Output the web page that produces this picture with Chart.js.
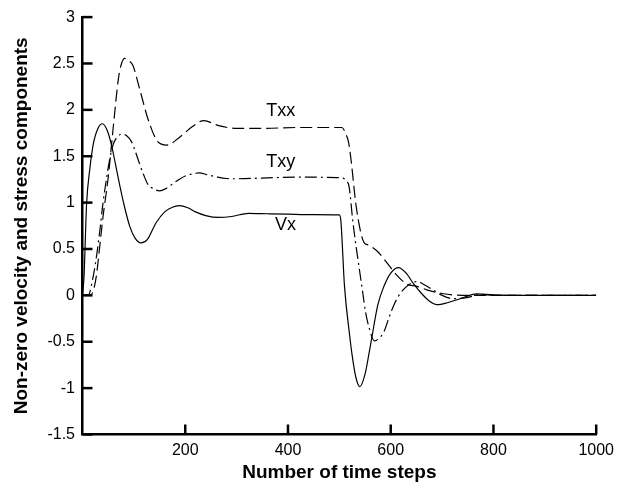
<!DOCTYPE html>
<html>
<head>
<meta charset="utf-8">
<script src="https://cdn.jsdelivr.net/npm/chart.js@4"></script>
<style>
  body { margin: 0; background: #fff; }
</style>
</head>
<body>
<canvas id="myChart" width="620" height="494"></canvas>
<script>
// Vx (solid)
const vxSteps = [0, 3, 8, 14, 21, 30, 39, 48, 56, 64, 72, 82, 92, 102, 114, 126, 143, 160, 175, 188, 205, 220, 240, 265, 290, 323, 360, 400, 450, 500, 503, 510, 520, 525, 532, 540, 550, 557, 564, 575, 587, 600, 615, 630, 645, 660, 675, 690, 710, 735, 767, 800, 850, 1000];
const vxValues = [0, 0.21, 0.99, 1.35, 1.63, 1.8, 1.85, 1.78, 1.63, 1.42, 1.2, 0.95, 0.744, 0.62, 0.566, 0.6, 0.78, 0.9, 0.95, 0.967, 0.945, 0.9, 0.86, 0.84, 0.85, 0.885, 0.88, 0.875, 0.87, 0.867, 0.8, 0.1, -0.43, -0.65, -0.88, -0.985, -0.85, -0.65, -0.43, -0.1, 0.1, 0.24, 0.3, 0.24, 0.12, 0.02, -0.06, -0.1, -0.08, -0.036, 0.017, 0.006, 0, 0];

// Txx (dashed)
const txxSteps = [0, 15, 21, 27, 33, 40, 50, 60, 70, 76, 82, 90, 98, 111, 127, 146, 164, 188, 214, 236, 265, 300, 350, 420, 505, 513, 518, 523, 532, 542, 548, 555, 561, 575, 590, 613, 632, 650, 670, 700, 740, 800, 1000];
const txxValues = [0, 0, 0.05, 0.21, 0.5, 0.85, 1.27, 1.82, 2.34, 2.5, 2.556, 2.53, 2.48, 2.23, 1.91, 1.66, 1.62, 1.7, 1.82, 1.884, 1.83, 1.8, 1.8, 1.81, 1.81, 1.735, 1.65, 1.45, 0.99, 0.67, 0.57, 0.545, 0.53, 0.47, 0.37, 0.21, 0.12, 0.1, 0.06, 0.02, 0, 0, 0];

// Txy (dash-dot)
const txySteps = [0, 11, 21, 28, 34, 40, 47, 53, 60, 68, 77, 86, 95, 103, 111, 119, 127, 138, 150, 162, 175, 188, 201, 214, 227, 243, 259, 280, 300, 350, 420, 495, 506, 513, 519, 526, 532, 539, 545, 551, 558, 568, 578, 587, 596, 606, 616, 626, 638, 651, 667, 684, 700, 722, 748, 775, 800, 1000];
const txyValues = [0, 0, 0.21, 0.45, 0.71, 1.0, 1.27, 1.47, 1.63, 1.71, 1.74, 1.72, 1.66, 1.55, 1.42, 1.3, 1.2, 1.15, 1.126, 1.15, 1.2, 1.25, 1.29, 1.31, 1.32, 1.3, 1.28, 1.26, 1.257, 1.265, 1.275, 1.27, 1.265, 1.24, 1.17, 0.81, 0.55, 0.28, 0.05, -0.18, -0.35, -0.49, -0.46, -0.39, -0.25, -0.106, 0, 0.07, 0.125, 0.149, 0.11, 0.053, 0, -0.036, -0.025, 0.01, 0, 0];

const xTicks = [200, 400, 600, 800, 1000];
const yTicks = [-1.5, -1, -0.5, 0, 0.5, 1, 1.5, 2, 2.5, 3];

const FONT = 'Liberation Sans, Arial, sans-serif';

function toPoints(xs, ys) {
    return xs.map((x, i) => ({ x: x, y: ys[i] }));
}

// curve names written inside the plot
const curveLabels = [
    { text: 'Txx', x: 386, y: 1.985 },
    { text: 'Txy', x: 386, y: 1.435 },
    { text: 'Vx', x: 395, y: 0.76 }
];

const insideTicks = {
    id: 'insideTicks',
    afterDraw(chart) {
        const ctx = chart.ctx;
        const xs = chart.scales.x;
        const ys = chart.scales.y;
        const area = chart.chartArea;
        ctx.save();
        ctx.strokeStyle = '#000';
        ctx.lineWidth = 2.5;
        xTicks.forEach(v => {
            const px = xs.getPixelForValue(v);
            ctx.beginPath();
            ctx.moveTo(px, area.bottom);
            ctx.lineTo(px, area.bottom - 10);
            ctx.stroke();
        });
        yTicks.forEach(v => {
            const py = ys.getPixelForValue(v);
            ctx.beginPath();
            ctx.moveTo(area.left, py);
            ctx.lineTo(area.left + 10, py);
            ctx.stroke();
        });
        ctx.fillStyle = '#000';
        ctx.font = '18px ' + FONT;
        ctx.textAlign = 'center';
        ctx.textBaseline = 'middle';
        curveLabels.forEach(l => {
            ctx.fillText(l.text, xs.getPixelForValue(l.x), ys.getPixelForValue(l.y));
        });
        ctx.restore();
    }
};

const lineStyle = {
    borderColor: '#000',
    borderWidth: 1.2,
    pointRadius: 0,
    fill: false,
    cubicInterpolationMode: 'monotone'
};

const data = {
    datasets: [
        Object.assign({ label: 'Vx', data: toPoints(vxSteps, vxValues) }, lineStyle),
        Object.assign({ label: 'Txx', data: toPoints(txxSteps, txxValues), borderDash: [12, 5] }, lineStyle),
        Object.assign({ label: 'Txy', data: toPoints(txySteps, txyValues), borderDash: [12, 4, 2, 4] }, lineStyle)
    ]
};

const config = {
    type: 'line',
    data: data,
    options: {
        responsive: false,
        animation: false,
        devicePixelRatio: 1,
        layout: { padding: { left: 0, right: 19, top: 11, bottom: 0 } },
        plugins: {
            legend: { display: false },
            tooltip: { enabled: false }
        },
        scales: {
            x: {
                type: 'linear',
                min: 0,
                max: 1000,
                afterFit: s => { s.height = 59.5; },
                afterBuildTicks: s => { s.ticks = [0].concat(xTicks).map(v => ({ value: v })); },
                grid: { display: false, drawTicks: false },
                border: { display: true, color: '#000', width: 2.5 },
                ticks: {
                    color: '#000',
                    padding: 6,
                    maxRotation: 0,
                    font: { family: FONT, size: 16 },
                    callback: v => (v === 0 ? '' : String(v))
                },
                title: {
                    display: true,
                    text: 'Number of time steps',
                    color: '#000',
                    padding: { top: 0, bottom: 10 },
                    font: { family: FONT, size: 19, weight: 'bold' }
                }
            },
            y: {
                min: -1.5,
                max: 3,
                afterFit: s => { s.width = 82.5; },
                afterBuildTicks: s => { s.ticks = yTicks.map(v => ({ value: v })); },
                grid: { display: false, drawTicks: false },
                border: { display: true, color: '#000', width: 2.5 },
                ticks: {
                    color: '#000',
                    padding: 7.5,
                    font: { family: FONT, size: 16 },
                    callback: v => String(v)
                },
                title: {
                    display: true,
                    text: 'Non-zero velocity and stress components',
                    color: '#000',
                    padding: { top: 10.5, bottom: 0 },
                    font: { family: FONT, size: 19, weight: 'bold' }
                }
            }
        }
    },
    plugins: [insideTicks]
};

new Chart(document.getElementById('myChart'), config);
</script>
</body>
</html>
